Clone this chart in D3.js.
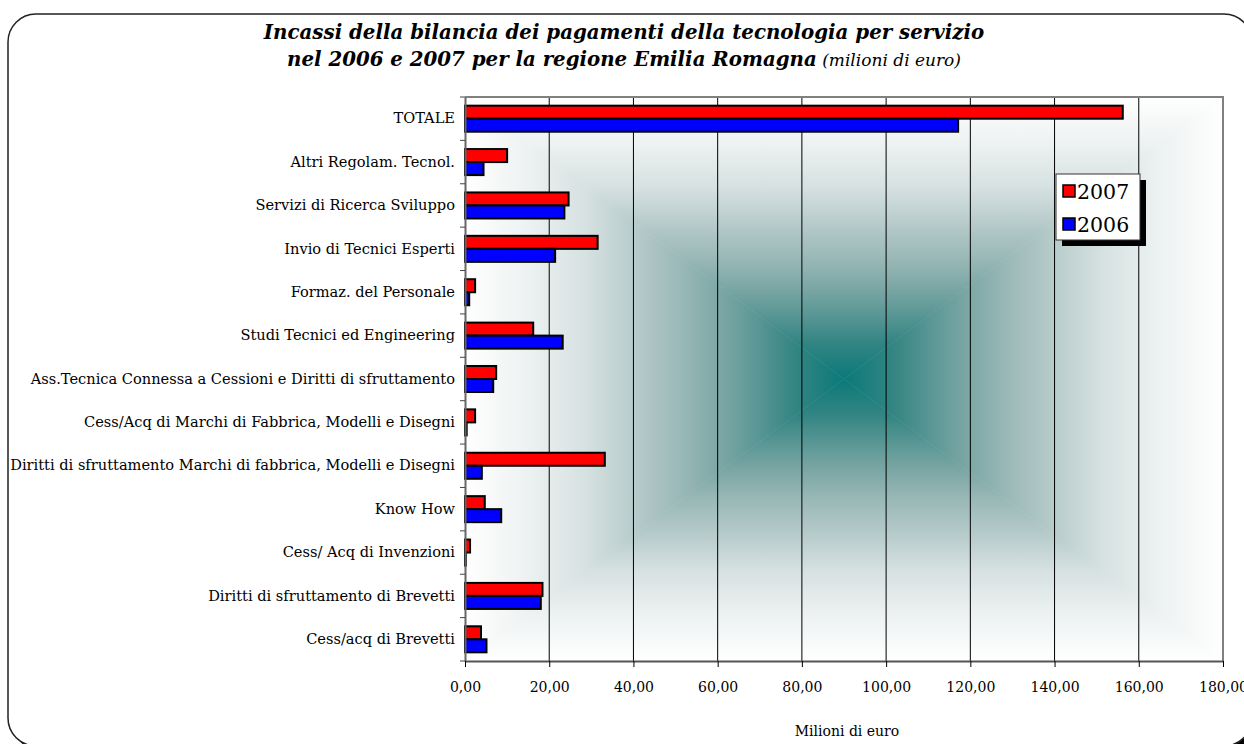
<!DOCTYPE html>
<html>
<head>
<meta charset="utf-8">
<script src="https://cdn.jsdelivr.net/npm/d3@7"></script>
<style>
  body { margin: 0; background: #fff; }
  svg { display: block; }
</style>
</head>
<body>
<div id="chart"></div>
<script>
// data
const categories = [
    "TOTALE",
    "Altri Regolam. Tecnol.",
    "Servizi di Ricerca Sviluppo",
    "Invio di Tecnici Esperti",
    "Formaz. del Personale",
    "Studi Tecnici ed Engineering",
    "Ass.Tecnica Connessa a Cessioni e Diritti di sfruttamento",
    "Cess/Acq di Marchi di Fabbrica, Modelli e Disegni",
    "Diritti di sfruttamento Marchi di fabbrica, Modelli e Disegni",
    "Know How",
    "Cess/ Acq di Invenzioni",
    "Diritti di sfruttamento di Brevetti",
    "Cess/acq di Brevetti"
];
const values2007 = [156.2, 10.0, 24.6, 31.5, 2.4, 16.2, 7.4, 2.4, 33.2, 4.7, 1.2, 18.4, 3.8];
const values2006 = [117.1, 4.4, 23.6, 21.4, 1.0, 23.2, 6.7, 0.4, 4.0, 8.6, 0.2, 18.0, 5.1];
const seriesNames = ["2007", "2006"];
const seriesColors = ["#ff0000", "#0000ff"];
const xTicks = [0, 20, 40, 60, 80, 100, 120, 140, 160, 180];

// page setup
const width = 1244;
const height = 744;
const plot = { left: 465, right: 1223, top: 97, bottom: 661 };
const font = "Georgia, 'DejaVu Serif', serif";

const svg = d3.select("#chart").append("svg")
    .attr("width", width)
    .attr("height", height);

// outer rounded frame with a little shadow
svg.append("rect")
    .attr("x", 12).attr("y", 18)
    .attr("width", 1244).attr("height", 732)
    .attr("rx", 28)
    .attr("fill", "#000");
svg.append("rect")
    .attr("x", 8).attr("y", 14)
    .attr("width", 1244).attr("height", 732)
    .attr("rx", 28)
    .attr("fill", "#fff")
    .attr("stroke", "#222")
    .attr("stroke-width", 1.5);

// scales
const x = d3.scaleLinear().domain([0, 180]).range([plot.left, plot.right]);
const y = d3.scaleBand().domain(categories).range([plot.top, plot.bottom])
    .paddingInner(0.4).paddingOuter(0.2);
const ySub = d3.scaleBand().domain(seriesNames).range([0, y.bandwidth()]);

// rectangular "from center" gradient built from 4 triangles
const defs = svg.append("defs");
const cx = (plot.left + plot.right) / 2;
const cy = (plot.top + plot.bottom) / 2;
const stops = [
    [0, "#ffffff"], [0.16, "#eef2f2"], [0.32, "#d6e1e1"], [0.48, "#afc6c5"],
    [0.58, "#97b7b6"], [0.68, "#7aa6a4"], [0.77, "#5a9795"], [0.87, "#338583"], [1, "#0b7a79"]
];
const sides = [
    { id: "gTop", x1: cx, y1: plot.top, x2: cx, y2: cy,
      pts: [[plot.left, plot.top], [plot.right, plot.top], [cx, cy]] },
    { id: "gBottom", x1: cx, y1: plot.bottom, x2: cx, y2: cy,
      pts: [[plot.left, plot.bottom], [plot.right, plot.bottom], [cx, cy]] },
    { id: "gLeft", x1: plot.left, y1: cy, x2: cx, y2: cy,
      pts: [[plot.left, plot.top], [plot.left, plot.bottom], [cx, cy]] },
    { id: "gRight", x1: plot.right, y1: cy, x2: cx, y2: cy,
      pts: [[plot.right, plot.top], [plot.right, plot.bottom], [cx, cy]] }
];
sides.forEach(s => {
    const g = defs.append("linearGradient")
        .attr("id", s.id)
        .attr("gradientUnits", "userSpaceOnUse")
        .attr("x1", s.x1).attr("y1", s.y1)
        .attr("x2", s.x2).attr("y2", s.y2);
    stops.forEach(st => g.append("stop").attr("offset", st[0]).attr("stop-color", st[1]));
    svg.append("polygon")
        .attr("points", s.pts.map(p => p.join(",")).join(" "))
        .attr("fill", `url(#${s.id})`)
        .attr("stroke", `url(#${s.id})`)
        .attr("stroke-width", 0.6);
});

// vertical gridlines
svg.append("g")
    .selectAll("line")
    .data(xTicks.slice(1, -1))
    .enter().append("line")
    .attr("x1", d => x(d)).attr("x2", d => x(d))
    .attr("y1", plot.top).attr("y2", plot.bottom)
    .attr("stroke", "#000")
    .attr("stroke-width", 1);

// plot border (top and right)
svg.append("path")
    .attr("d", `M${plot.left},${plot.top}H${plot.right}V${plot.bottom}`)
    .attr("fill", "none")
    .attr("stroke", "#808080")
    .attr("stroke-width", 2);

// bars
const rows = categories.map((c, i) => ({ cat: c, vals: [values2007[i], values2006[i]] }));
const groups = svg.append("g").selectAll("g")
    .data(rows)
    .enter().append("g")
    .attr("transform", d => `translate(0,${y(d.cat)})`);

groups.selectAll("rect")
    .data(d => d.vals.map((v, j) => ({ name: seriesNames[j], v: v, color: seriesColors[j] })))
    .enter().append("rect")
    .attr("x", x(0))
    .attr("y", d => ySub(d.name))
    .attr("width", d => x(d.v) - x(0))
    .attr("height", ySub.bandwidth())
    .attr("fill", d => d.color)
    .attr("stroke", "#000")
    .attr("stroke-width", 2);

// y axis
const yAxis = svg.append("g")
    .attr("transform", `translate(${plot.left},0)`)
    .call(d3.axisLeft(y).tickSize(0).tickPadding(10));
yAxis.select(".domain").attr("stroke", "#666").attr("stroke-width", 2);
yAxis.selectAll("text")
    .attr("font-family", font)
    .attr("font-size", 14.6)
    .attr("fill", "#000");
// tick marks between categories
svg.append("g").selectAll("line")
    .data(d3.range(categories.length + 1))
    .enter().append("line")
    .attr("x1", plot.left - 5).attr("x2", plot.left)
    .attr("y1", i => plot.top + i * y.step())
    .attr("y2", i => plot.top + i * y.step())
    .attr("stroke", "#444")
    .attr("stroke-width", 1);

// x axis
const xAxis = svg.append("g")
    .attr("transform", `translate(0,${plot.bottom})`)
    .call(d3.axisBottom(x).tickValues(xTicks).tickSize(6).tickSizeOuter(0).tickPadding(15)
        .tickFormat(d => d3.format(".2f")(d).replace(".", ",")));
xAxis.select(".domain").attr("stroke", "#555").attr("stroke-width", 2);
xAxis.selectAll(".tick line").attr("stroke", "#000");
xAxis.selectAll("text")
    .attr("font-family", font)
    .attr("font-size", 14)
    .attr("fill", "#000");

// x axis title
svg.append("text")
    .attr("x", 847).attr("y", 736)
    .attr("text-anchor", "middle")
    .attr("font-family", font)
    .attr("font-size", 14)
    .text("Milioni di euro");

// title
svg.append("text")
    .attr("x", 624).attr("y", 39)
    .attr("text-anchor", "middle")
    .attr("font-family", font)
    .attr("font-size", 19.8)
    .attr("font-weight", "bold")
    .attr("font-style", "italic")
    .text("Incassi della bilancia dei pagamenti della tecnologia per servizio");
const t2 = svg.append("text")
    .attr("x", 624).attr("y", 66)
    .attr("text-anchor", "middle")
    .attr("font-family", font)
    .attr("font-size", 19.8)
    .attr("font-style", "italic");
t2.append("tspan").attr("font-weight", "bold").text("nel 2006 e 2007 per la regione Emilia Romagna");
t2.append("tspan").attr("font-size", 17).text("  (milioni di euro)");

// legend
const legend = svg.append("g").attr("transform", "translate(1056,174)");
legend.append("rect")
    .attr("x", 6).attr("y", 6)
    .attr("width", 84).attr("height", 66)
    .attr("fill", "#000");
legend.append("rect")
    .attr("width", 84).attr("height", 66)
    .attr("fill", "#fff")
    .attr("stroke", "#333")
    .attr("stroke-width", 1);
seriesNames.forEach((name, i) => {
    legend.append("rect")
        .attr("x", 7).attr("y", 11 + i * 33)
        .attr("width", 12).attr("height", 12)
        .attr("fill", seriesColors[i])
        .attr("stroke", "#000")
        .attr("stroke-width", 1.5);
    legend.append("text")
        .attr("x", 21).attr("y", 25 + i * 33)
        .attr("font-family", font)
        .attr("font-size", 20.5)
        .text(name);
});
</script>
</body>
</html>
